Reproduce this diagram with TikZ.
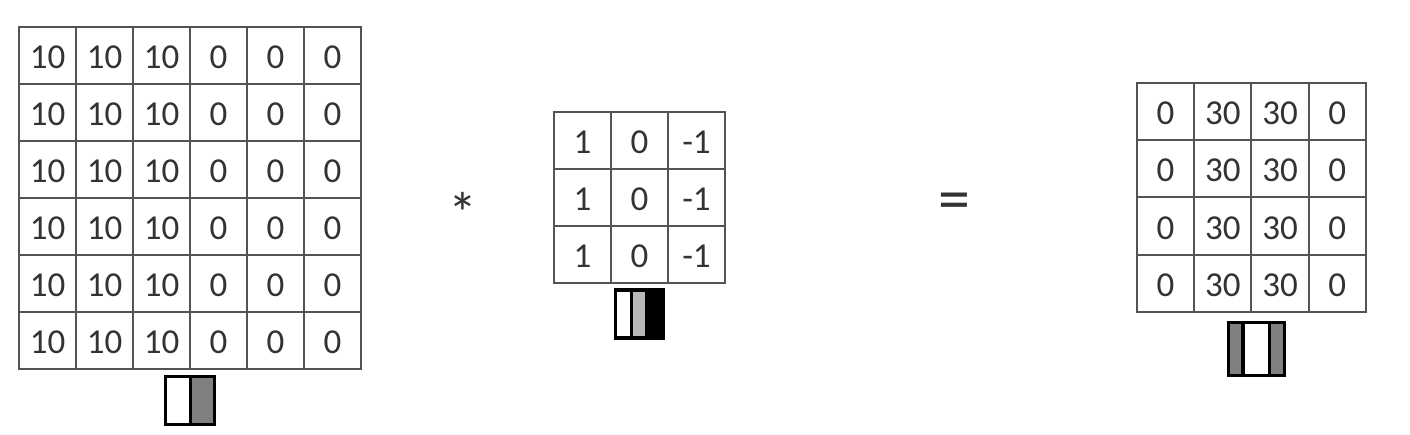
\documentclass[tikz,border=0pt]{standalone}
\usepackage{fontspec}
\setmainfont{Carlito}
\definecolor{gridc}{gray}{0.33}
\definecolor{txtc}{gray}{0.2}
\definecolor{midgray}{gray}{0.5}
\definecolor{lightgray2}{gray}{0.72}
\tikzset{
  cellA/.style={draw=gridc,line width=2pt,minimum width=57pt,minimum height=57pt,inner sep=0pt,outer sep=0pt,font=\fontsize{35}{35}\selectfont,text=txtc,anchor=center,text height=26pt,text depth=0pt},
  cellB/.style={cellA,minimum width=57.2pt,minimum height=57.2pt},
  swatch/.style={draw=black,line width=3.2pt,minimum height=#1,inner sep=0pt,outer sep=0pt},
  sym/.style={inner sep=0pt,text=txtc},
}
\begin{document}
\begin{tikzpicture}[x=1pt,y=-1pt]
\useasboundingbox (0,0) rectangle (1410,434);
\fill[white] (0,0) rectangle (1410,434);
% input image 6x6
\foreach \r in {0,...,5}{
  \foreach \c/\v in {0/10,1/10,2/10,3/0,4/0,5/0}{
    \node[cellA] (a\r\c) at ({47.5+57*\c},{55.5+57*\r}) {\v};
  }
}
% filter 3x3
\foreach \r in {0,1,2}{
  \foreach \c/\v in {0/1,1/0,2/-1}{
    \node[cellA] (b\r\c) at ({582.5+57*\c},{140.5+57*\r}) {\v};
  }
}
% output 4x4
\foreach \r in {0,...,3}{
  \foreach \c/\v in {0/0,1/30,2/30,3/0}{
    \node[cellB] (c\r\c) at ({1165.6+57.2*\c},{111.6+57.2*\r}) {\v};
  }
}
% operators
\node[sym,font=\fontsize{58}{58}\selectfont] (star) at (463,213) {*};
\node[sym,font=\fontsize{64}{64}\selectfont] (eq) at (954,207) {=};
% swatch 1
\node[swatch=48pt,fill=white,minimum width=24.5pt] (s1a) at (178,400.5) {};
\node[swatch=48pt,fill=midgray,minimum width=24.5pt] (s1b) at (202.5,400.5) {};
% swatch 2
\node[swatch=48pt,fill=white,minimum width=15.5pt] (s2a) at (623.5,314) {};
\node[swatch=48pt,fill=lightgray2,minimum width=15.5pt] (s2b) at (639,314) {};
\node[swatch=48pt,fill=black,minimum width=17pt] (s2c) at (655,314) {};
% swatch 3
\node[swatch=53pt,fill=midgray,minimum width=14.5pt] (s3a) at (1236,349) {};
\node[swatch=53pt,fill=white,minimum width=27pt] (s3b) at (1256.5,349) {};
\node[swatch=53pt,fill=midgray,minimum width=14.5pt] (s3c) at (1277,349) {};
\end{tikzpicture}
\end{document}
